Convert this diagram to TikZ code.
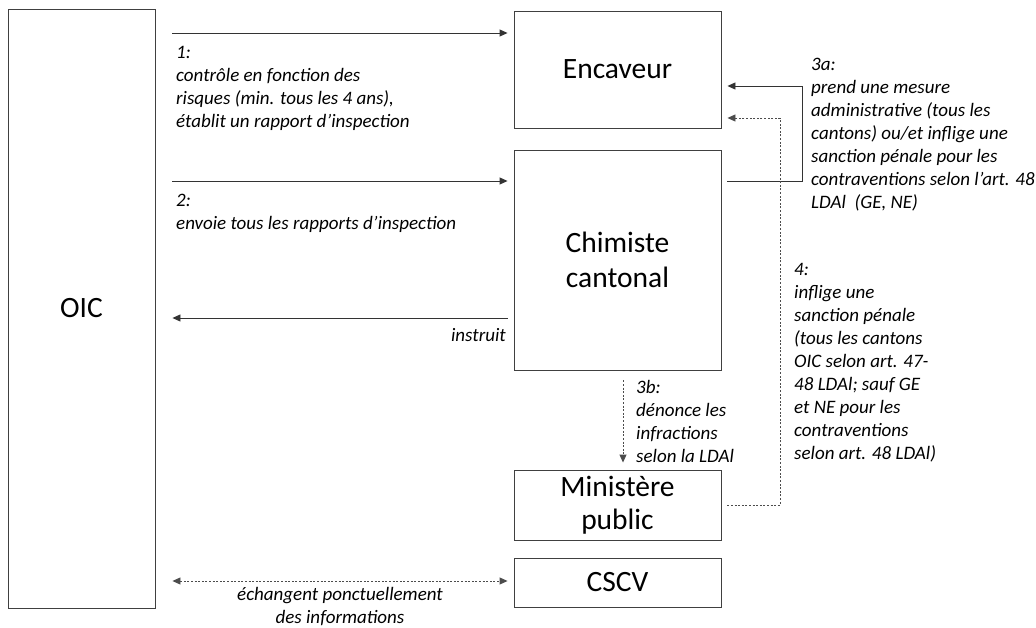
\documentclass[tikz,border=0pt]{standalone}
\usepackage{fontspec}
\setmainfont{Carlito}
\usetikzlibrary{arrows.meta}

\tikzset{
  box/.style={draw=black!75, line width=0.9pt, minimum width=207pt, inner sep=0pt, align=center, font=\fontsize{29.5}{33}\selectfont},
  note/.style={inner sep=0pt, align=left, font=\itshape\fontsize{19}{23}\selectfont},
  flow/.style={draw=black!80, line width=0.9pt, -{Triangle[length=8pt,width=7pt]}},
  back/.style={draw=black!70, line width=0.9pt, dash pattern=on 2pt off 1.6pt, -{Triangle[length=8pt,width=7pt]}}
}

\begin{document}
\begin{tikzpicture}[x=1pt,y=-1pt]
\useasboundingbox (0,0) rectangle (1036,628);

% boxes
\node[box, minimum width=147pt, minimum height=599pt] (oic) at (81.5,308.5) {OIC};
\node[box, minimum height=117pt] (enc) at (617.5,69.5) {Encaveur};
\node[box, minimum height=220pt] (chim) at (617.5,260) {Chimiste\\[2pt]cantonal};
\node[box, minimum height=70pt] (min) at (617.5,505) {Ministère\\public};
\node[box, minimum height=49pt] (cscv) at (617.5,582.5) {CSCV};

% rows of the connectors
\coordinate (r1) at (0,33);
\coordinate (r2) at (0,181);
\coordinate (r3) at (0,318);
\coordinate (r3a) at (0,86);
\coordinate (r4) at (0,118);
\coordinate (r5) at (0,581);
\coordinate (c3a) at (802,0);
\coordinate (c4) at (780,0);

\draw[flow, shorten <=17pt, shorten >=6pt] (oic.east |- r1) -- (enc.west |- r1);
\draw[flow, shorten <=17pt, shorten >=6pt] (oic.east |- r2) -- (chim.west |- r2);
\draw[flow, shorten <=6pt, shorten >=17pt] (chim.west |- r3) -- (oic.east |- r3);
\draw[flow, shorten >=6pt] ([xshift=6pt]chim.east |- r2) -- (c3a |- r2) -- (c3a |- r3a) -- (enc.east |- r3a);
\draw[back, shorten >=6pt] ([xshift=6pt]min.east) -- (c4 |- min.east) -- (c4 |- r4) -- (enc.east |- r4);
\draw[back, shorten <=10pt, shorten >=7pt] ([xshift=5.5pt]chim.south) -- ([xshift=5.5pt]min.north);
\draw[back, {Triangle[length=8pt,width=7pt]}-{Triangle[length=8pt,width=7pt]}, shorten <=17pt, shorten >=6pt] (oic.east |- r5) -- (cscv.west |- r5);

% labels
\node[note, anchor=north west] (t1) at (176,46) {1:\\contrôle en fonction des\\risques (min. tous les 4 ans),\\établit un rapport d’inspection};
\node[note, anchor=north west] (t2) at (176,194) {2:\\envoie tous les rapports d’inspection};
\node[note, anchor=north east] (t3) at (506,328) {instruit};
\node[note, anchor=north west] (t3a) at (811,58) {3a:\\prend une mesure\\administrative (tous les\\cantons) ou/et inflige une\\sanction pénale pour les\\contraventions selon l’art. 48\\LDAl\ \ (GE, NE)};
\node[note, anchor=north west] (t3b) at (636,380) {3b:\\dénonce les\\infractions\\selon la LDAl};
\node[note, anchor=north west] (t4) at (794,263) {4:\\inflige une\\sanction pénale\\(tous les cantons\\OIC selon art. 47-\\48 LDAl; sauf GE\\et NE pour les\\contraventions\\selon art. 48 LDAl)};
\node[note, anchor=north, align=center] (t5) at (340,587) {échangent ponctuellement\\des informations};
\end{tikzpicture}
\end{document}
